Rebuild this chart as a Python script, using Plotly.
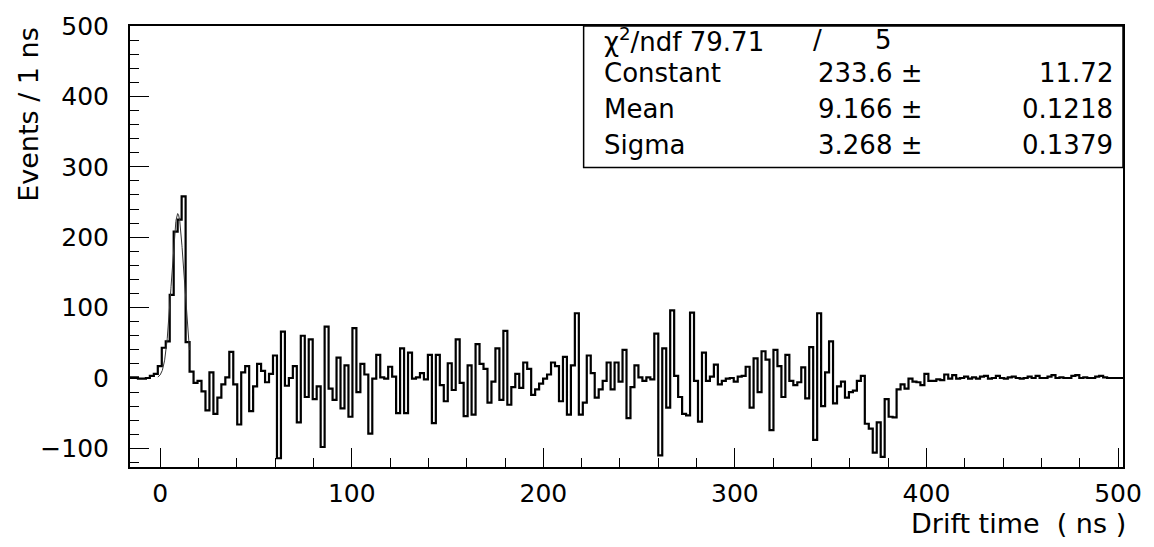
import numpy as np
import plotly.graph_objects as go

# ---------------- data ----------------
bin_lo = -15.8
bin_width = 2.0736
counts = [
    1, 1, -1, -1, 0, 3, 6, 17, 43, 52,
    118, 208, 225, 258, 51, 9, -7, -4, -19, -46,
    8, -51, -28, -9, 1, 37, -9, -66, 8, 17,
    -47, -12, 20, 10, -6, 6, 32, -114, 66, -11,
    0, 17, -63, 60, -27, 55, -30, -12, -98, 73,
    -15, -31, 29, -43, 18, -55, 71, -20, 20, 5,
    -79, -1, 33, 1, -1, 16, 2, -50, 42, -50,
    36, -1, 1, 7, -2, 33, -64, 33, -10, -33,
    21, -17, 55, -7, -54, 18, -52, 48, 20, 13,
    -35, -5, 42, -31, 67, -38, -13, 6, -14, 22,
    13, -24, -16, -8, -1, 5, 22, 17, -33, 30,
    -52, 18, 92, -52, -35, 32, 7, -28, -16, -4,
    22, -16, 22, -5, 40, -57, -13, 18, 1, -4,
    1, -2, 63, -110, 42, -42, 96, 3, -27, -51,
    -53, 93, -4, -62, 36, -4, 2, 19, -9, -4,
    -1, 0, -5, 2, 3, 16, -42, 28, -20, 38,
    26, -74, 40, 17, -27, 33, -4, -10, -6, 15,
    -29, 44, -88, 92, -40, 8, 52, -36, -12, -5,
    -28, -20, -18, -4, 3, -65, -72, -106, -63, -112,
    -30, -55, -56, -16, -9, -15, -1, -5, -6, -10,
    6, -4, -4, -2, -3, 5, -1, 4, -1, 0,
    2, -1, 1, -1, 2, 3, -1, 0, 3, 0,
    -1, 1, 2, 0, -1, 0, 2, 0, 3, 0,
    0, 2, 4, 0, 1, 0, 0, 3, 4, 0,
    1, 0, 0, 2, 3, 1, 0, 0, 0, 0,
]

# Gaussian fit result (stats box)
chi2 = "79.71"
ndf = "5"
fit_names = ["Constant", "Mean", "Sigma"]
fit_values = ["233.6", "9.166", "3.268"]
fit_errors = ["11.72", "0.1218", "0.1379"]
fit_const, fit_mean, fit_sigma = 233.6, 9.166, 3.268
fit_first_bin, fit_last_bin = 7, 14

x_title = "Drift time  ( ns )"
y_title = "Events / 1 ns"

# ---------------- figure ----------------
n = len(counts)
edges = bin_lo + bin_width * np.arange(n + 1)
hx = np.append(edges[:-1], edges[-1])
hy = np.append(np.array(counts, dtype=float), counts[-1])

fx = np.linspace(edges[fit_first_bin], edges[fit_last_bin + 1], 200)
fy = fit_const * np.exp(-0.5 * ((fx - fit_mean) / fit_sigma) ** 2)

fig = go.Figure()
fig.add_trace(go.Scatter(x=hx, y=hy, mode="lines", line=dict(color="black", width=2.2, shape="hv"),
                         hoverinfo="skip"))
fig.add_trace(go.Scatter(x=fx, y=fy, mode="lines", line=dict(color="#333333", width=1),
                         hoverinfo="skip"))

FONT = "DejaVu Sans"
L, R, T, B = 130, 28, 18, 80
W, H = 1154, 547
pw, ph = W - L - R, H - T - B


def px(xp):
    return (xp - L) / pw


def py(yp):
    return (H - B - yp) / ph


axis_common = dict(
    showline=True, linewidth=2, linecolor="black", mirror=True,
    ticks="inside", ticklen=19, tickwidth=1.2, tickcolor="black",
    showgrid=False, zeroline=False,
    tickfont=dict(family=FONT, size=25, color="black"),
)
fig.update_xaxes(range=[edges[0], edges[-1]], tick0=0, dtick=100,
                 minor=dict(dtick=20, tick0=0, ticklen=9, ticks="inside", tickcolor="black", tickwidth=1.2),
                 ticklabelstandoff=3, **axis_common)
fig.update_yaxes(range=[-126.4, 500], tick0=0, dtick=100,
                 minor=dict(dtick=20, tick0=0, ticklen=9, ticks="inside", tickcolor="black", tickwidth=1.2),
                 ticklabelstandoff=14, **axis_common)

# stats box
fig.add_shape(type="rect", xref="paper", yref="paper", x0=px(585), x1=1.0, y0=py(162), y1=1.0,
              line=dict(color="black", width=1.5), fillcolor="white", layer="above")

ann = []
sf = dict(family=FONT, size=26, color="black")
rows_y = [32, 66, 102, 139]
ann.append(dict(x=px(603), y=py(rows_y[0]), xanchor="left", yanchor="middle",
                text="χ<sup>2</sup>/ndf " + chi2, font=sf))
ann.append(dict(x=px(820), y=py(rows_y[0]), xanchor="center", yanchor="middle", text="/", font=sf))
ann.append(dict(x=px(896), y=py(rows_y[0]), xanchor="right", yanchor="middle", text=ndf, font=sf))
for k in range(3):
    yk = py(rows_y[k + 1])
    ann.append(dict(x=px(603), y=yk, xanchor="left", yanchor="middle", text=fit_names[k], font=sf))
    ann.append(dict(x=px(926), y=yk, xanchor="right", yanchor="middle", text=fit_values[k] + " ±", font=sf))
    ann.append(dict(x=px(1118), y=yk, xanchor="right", yanchor="middle", text=fit_errors[k], font=sf))

# axis titles
ann.append(dict(x=px(1131), y=py(525), xanchor="right", yanchor="middle", text=x_title,
                font=dict(family=FONT, size=27, color="black")))
ann.append(dict(x=px(28), y=py(17), xanchor="center", yanchor="top", text=y_title, textangle=-90,
                font=dict(family=FONT, size=27, color="black")))
for a in ann:
    a.update(xref="paper", yref="paper", showarrow=False)

fig.update_layout(width=W, height=H, margin=dict(l=L, r=R, t=T, b=B),
                  plot_bgcolor="white", paper_bgcolor="white", showlegend=False,
                  annotations=ann, font=dict(family=FONT))

fig.write_html("out.html")
